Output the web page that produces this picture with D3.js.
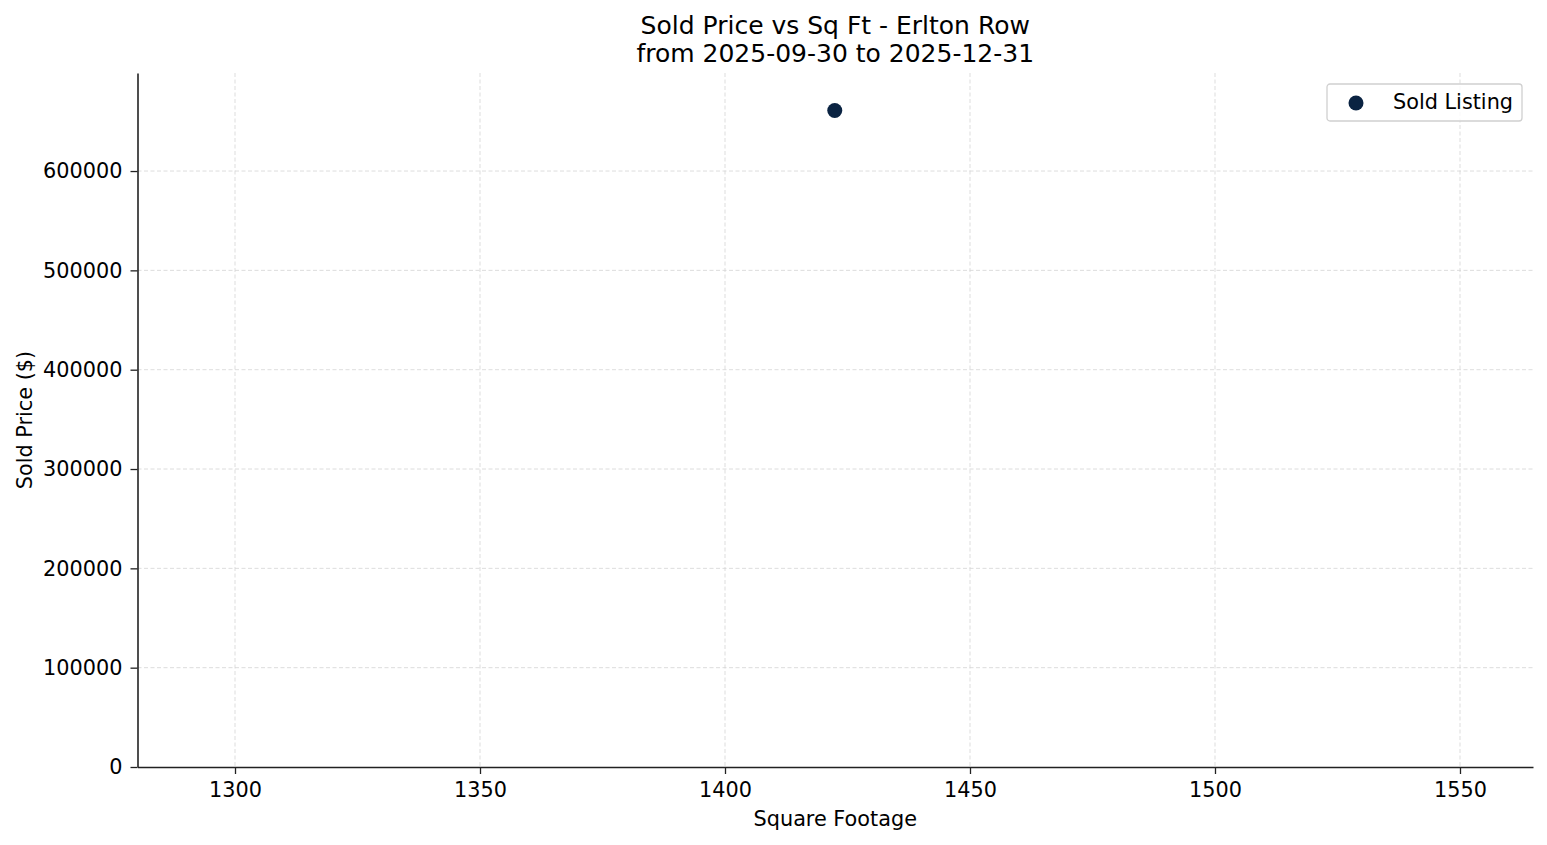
<!DOCTYPE html>
<html>
<head>
<meta charset="utf-8">
<script src="https://cdn.jsdelivr.net/npm/d3@7"></script>
<style>
  html, body { margin: 0; padding: 0; background: #fff; }
  svg { display: block; font-family: "DejaVu Sans", sans-serif; }
</style>
</head>
<body>
<div id="stage"></div>
<script>
// data
const sqft = [1422.4];
const soldPrice = [661000];
const xTicks = [1300, 1350, 1400, 1450, 1500, 1550];
const yTicks = [0, 100000, 200000, 300000, 400000, 500000, 600000];
const xDomain = [1280.1, 1564.9];
const yDomain = [0, 698700];

const titleLines = ["Sold Price vs Sq Ft - Erlton Row", "from 2025-09-30 to 2025-12-31"];
const seriesName = "Sold Listing";
const dotColor = "#0a2342";

const W = 1547, H = 845;
const margin = { top: 73, right: 14, bottom: 78, left: 137.5 };
const fs = 20.8;       // 10pt @ 150dpi
const titleFs = 25;    // 12pt @ 150dpi

const svg = d3.select("#stage").append("svg")
  .attr("width", W)
  .attr("height", H);

const x = d3.scaleLinear().domain(xDomain).range([margin.left, W - margin.right]);
const y = d3.scaleLinear().domain(yDomain).range([H - margin.bottom, margin.top]);

// grid
const grid = svg.append("g").attr("class", "grid")
  .attr("stroke", "#d4d4d4")
  .attr("stroke-width", 0.8)
  .attr("stroke-dasharray", "4,2.5");

grid.selectAll(".gx").data(xTicks).join("line")
  .attr("x1", d => x(d)).attr("x2", d => x(d))
  .attr("y1", margin.top).attr("y2", H - margin.bottom);

grid.selectAll(".gy").data(yTicks.filter(d => d > 0)).join("line")
  .attr("x1", margin.left).attr("x2", W - margin.right)
  .attr("y1", d => y(d)).attr("y2", d => y(d));

// axes
const xAxis = svg.append("g")
  .attr("transform", `translate(0,${H - margin.bottom})`)
  .call(d3.axisBottom(x).tickValues(xTicks).tickFormat(d3.format("d"))
    .tickSize(7).tickPadding(8).tickSizeOuter(0));

const yAxis = svg.append("g")
  .attr("transform", `translate(${margin.left},0)`)
  .call(d3.axisLeft(y).tickValues(yTicks).tickFormat(d3.format("d"))
    .tickSize(7).tickPadding(8).tickSizeOuter(0));

[xAxis, yAxis].forEach(g => {
  g.attr("font-size", fs).attr("font-family", "DejaVu Sans");
  g.selectAll("text").attr("fill", "#000");
  g.selectAll("line").attr("stroke", "#222").attr("stroke-width", 1.3);
  g.select(".domain").attr("stroke", "#222").attr("stroke-width", 1.6);
});

// points
svg.append("g").selectAll("circle")
  .data(sqft.map((s, i) => ({ s, p: soldPrice[i] })))
  .join("circle")
  .attr("cx", d => x(d.s))
  .attr("cy", d => y(d.p))
  .attr("r", 7.5)
  .attr("fill", dotColor);

// axis labels
svg.append("text")
  .attr("x", (margin.left + W - margin.right) / 2)
  .attr("y", 826)
  .attr("text-anchor", "middle")
  .attr("font-size", fs)
  .text("Square Footage");

svg.append("text")
  .attr("transform", `translate(31.5,${(margin.top + H - margin.bottom) / 2}) rotate(-90)`)
  .attr("text-anchor", "middle")
  .attr("font-size", fs)
  .text("Sold Price ($)");

// title
svg.append("text")
  .attr("text-anchor", "middle")
  .attr("font-size", titleFs)
  .selectAll("tspan").data(titleLines).join("tspan")
  .attr("x", (margin.left + W - margin.right) / 2)
  .attr("y", (d, i) => 34.3 + i * 27.4)
  .text(d => d);

// legend
const legend = svg.append("g").attr("transform", "translate(1327,84)");
legend.append("rect")
  .attr("width", 195).attr("height", 37).attr("rx", 3)
  .attr("fill", "#fff").attr("fill-opacity", 0.8)
  .attr("stroke", "#d0d0d0").attr("stroke-width", 1.3);
legend.append("circle")
  .attr("cx", 29).attr("cy", 19).attr("r", 7.5)
  .attr("fill", dotColor);
legend.append("text")
  .attr("x", 66).attr("y", 25)
  .attr("font-size", fs)
  .text(seriesName);
</script>
</body>
</html>
